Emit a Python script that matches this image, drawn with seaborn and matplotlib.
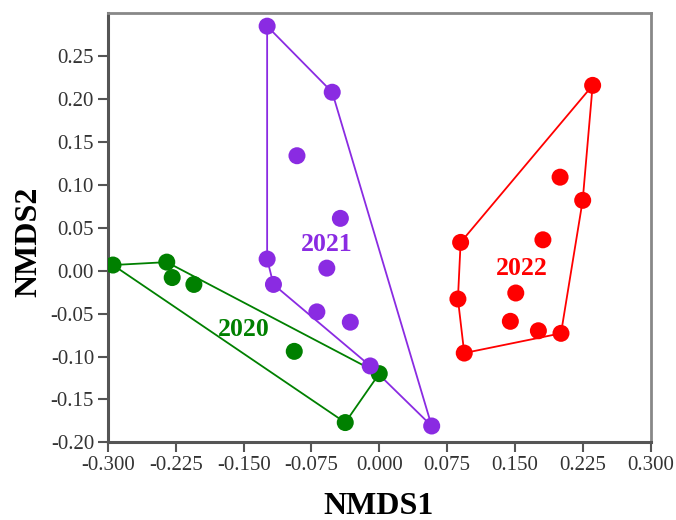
import numpy as np
import pandas as pd
import matplotlib
matplotlib.use("Agg")
import matplotlib.pyplot as plt
import seaborn as sns

# ---- data ----
x_2020 = [-0.2945, -0.235, -0.229, -0.205, -0.094, -0.0376, 0.000]
y_2020 = [0.0066, 0.010, -0.008, -0.016, -0.094, -0.177, -0.120]
hull_2020 = [0, 1, 6, 5]

x_2021 = [-0.124, -0.052, -0.091, -0.043, -0.058, -0.124, -0.117, -0.069, -0.032, -0.010, 0.058]
y_2021 = [0.285, 0.208, 0.134, 0.061, 0.003, 0.0136, -0.016, -0.048, -0.060, -0.111, -0.181]
hull_2021 = [0, 1, 10, 9, 6, 5]

x_2022 = [0.236, 0.200, 0.225, 0.090, 0.181, 0.087, 0.151, 0.145, 0.176, 0.201, 0.094]
y_2022 = [0.216, 0.109, 0.082, 0.033, 0.036, -0.033, -0.026, -0.059, -0.070, -0.073, -0.096]
hull_2022 = [0, 2, 9, 10, 5, 3]

groups = ["2020", "2021", "2022"]
colors = {"2020": "#008000", "2021": "#8a2be2", "2022": "#ff0000"}
label_pos = {"2020": (-0.150, -0.068), "2021": (-0.058, 0.031), "2022": (0.158, 0.003)}

xticks = [-0.300, -0.225, -0.150, -0.075, 0.000, 0.075, 0.150, 0.225, 0.300]
yticks = [-0.20, -0.15, -0.10, -0.05, 0.00, 0.05, 0.10, 0.15, 0.20, 0.25]

data = {"2020": (x_2020, y_2020, hull_2020),
        "2021": (x_2021, y_2021, hull_2021),
        "2022": (x_2022, y_2022, hull_2022)}

rows = []
for g in groups:
    xs, ys, _ = data[g]
    for a, b in zip(xs, ys):
        rows.append({"NMDS1": a, "NMDS2": b, "year": g})
df = pd.DataFrame(rows)

sns.set_style("white")
plt.rcParams["font.family"] = ["Liberation Serif", "DejaVu Serif"]

fig = plt.figure(figsize=(6.76, 5.20), dpi=100)
ax = fig.add_axes([108 / 676, 1 - 442.3 / 520, (650.5 - 108) / 676, (442.3 - 12.7) / 520])

# hulls
for g in groups:
    xs, ys, hull = data[g]
    hx = [xs[i] for i in hull] + [xs[hull[0]]]
    hy = [ys[i] for i in hull] + [ys[hull[0]]]
    sns.lineplot(x=hx, y=hy, sort=False, color=colors[g], lw=1.3, ax=ax,
                 estimator=None, zorder=2)

sns.scatterplot(data=df, x="NMDS1", y="NMDS2", hue="year", palette=colors,
                s=150, edgecolor="none", linewidth=0, ax=ax, legend=False, zorder=3)

for g in groups:
    lx, ly = label_pos[g]
    ax.text(lx, ly, g, color=colors[g], fontsize=18.5, fontweight="bold",
            ha="center", va="center", zorder=4)

ax.set_xlim(-0.300, 0.300)
ax.set_ylim(-0.200, 0.3007)
ax.set_xticks(xticks)
ax.set_xticklabels([f"{v:.3f}" for v in xticks])
ax.set_yticks(yticks)
ax.set_yticklabels([f"{v:.2f}" for v in yticks])
ax.tick_params(axis="both", which="major", direction="out", length=7, width=1.5,
               color="#555555", labelsize=15, labelcolor="#333333", pad=3,
               bottom=True, left=True)

for side in ["top", "right"]:
    ax.spines[side].set_color("#888888")
    ax.spines[side].set_linewidth(2.0)
for side in ["left", "bottom"]:
    ax.spines[side].set_color("#555555")
    ax.spines[side].set_linewidth(2.2)

ax.set_xlabel("NMDS1", fontsize=23, fontweight="bold", color="black")
ax.set_ylabel("NMDS2", fontsize=23, fontweight="bold", color="black")
ax.xaxis.set_label_coords((378 - 108) / (650.5 - 108), -(506 - 442.3) / (442.3 - 12.7))
ax.yaxis.set_label_coords(-(108 - 29) / (650.5 - 108), (442.3 - 242) / (442.3 - 12.7))
ax.xaxis.label.set_va("center")
ax.yaxis.label.set_va("center")

fig.savefig("out.png", dpi=100)
